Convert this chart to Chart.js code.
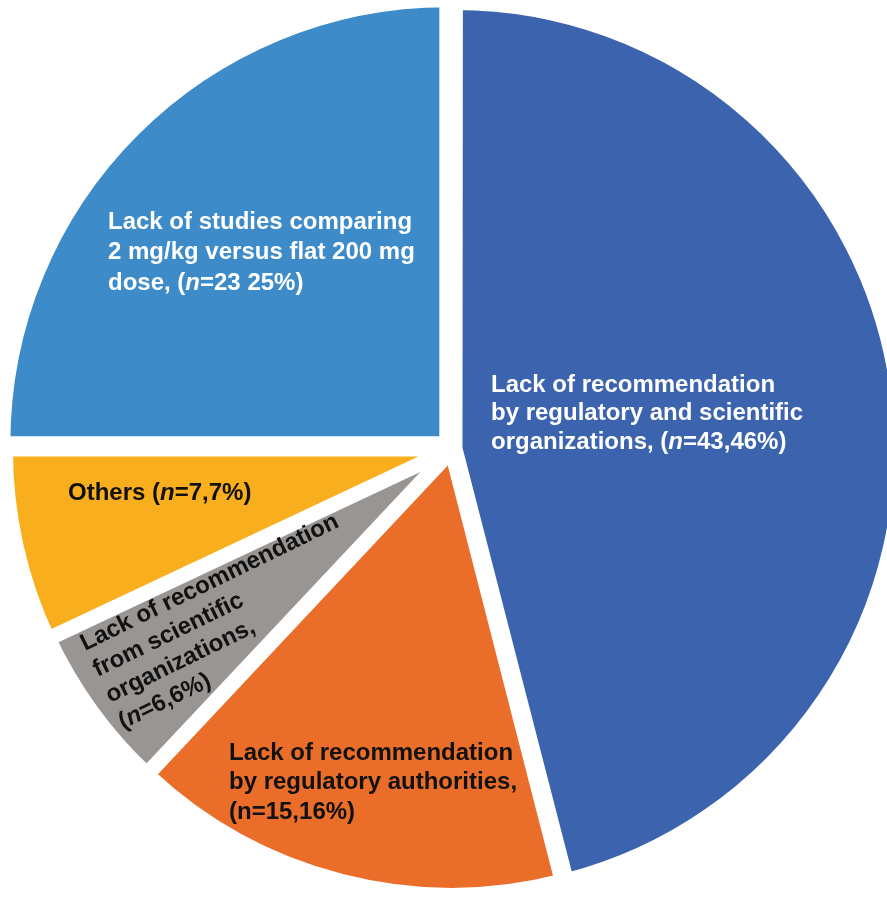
<!DOCTYPE html>
<html>
<head>
<meta charset="utf-8">
<script src="https://cdn.jsdelivr.net/npm/chart.js@4.4.1/dist/chart.umd.min.js"></script>
<style>
  html, body { margin: 0; padding: 0; background: #fff; }
  #wrap { width: 887px; height: 898px; }
</style>
</head>
<body>
<div id="wrap"><canvas id="pie-chart"></canvas></div>
<script>
var categories = [
  "Lack of recommendation by regulatory and scientific organizations",
  "Lack of recommendation by regulatory authorities",
  "Lack of recommendation from scientific organizations",
  "Others",
  "Lack of studies comparing 2 mg/kg versus flat 200 mg dose"
];
var counts = [43, 15, 6, 7, 23];
var percents = [46, 16, 6, 7, 25];
var colors = ["#3c63ad", "#ea6d2a", "#999593", "#f9af1d", "#3d8bc8"];
var textColors = ["#ffffff", "#111111", "#111111", "#111111", "#ffffff"];

// text lines inside each slice, {n} gets the count / percent
var labelLines = [
  ["Lack of recommendation", "by regulatory and scientific", "organizations, ({n})"],
  ["Lack of recommendation", "by regulatory authorities,", "({n})"],
  ["Lack of recommendation", "from scientific", "organizations,", "({n})"],
  ["Others ({n})"],
  ["Lack of studies comparing", "2 mg/kg versus flat 200 mg", "dose, ({n})"]
];
var labelSep = [",", ",", ",", ",", " "];
var italicN = [true, false, true, true, true];

// where the label block starts, relative to the pie centre
var labelPos = [
  { dx: 39, dy: -64, lh: 28.5, rot: 0 },
  { dx: -223, dy: 304, lh: 29.5, rot: 0 },
  { dx: -370, dy: 196, lh: 29, rot: -26 },
  { dx: -384, dy: 44, lh: 29, rot: 0 },
  { dx: -344, dy: -227, lh: 30.5, rot: 0 }
];

var FONT = '"Liberation Sans", Arial, sans-serif';

function drawLine(ctx, str, i, x, y) {
  var k = str.indexOf("{n}");
  if (k < 0) { ctx.fillText(str, x, y); return; }
  var before = str.slice(0, k);
  var after = "=" + counts[i] + labelSep[i] + percents[i] + "%" + str.slice(k + 3);
  ctx.font = "bold 24px " + FONT;
  ctx.fillText(before, x, y);
  x += ctx.measureText(before).width;
  ctx.font = (italicN[i] ? "italic " : "") + "bold 24px " + FONT;
  ctx.fillText("n", x, y);
  x += ctx.measureText("n").width;
  ctx.font = "bold 24px " + FONT;
  ctx.fillText(after, x, y);
}

var sliceLabels = {
  id: 'sliceLabels',
  afterDatasetsDraw: function (chart) {
    var ctx = chart.ctx;
    var arcs = chart.getDatasetMeta(0).data;
    arcs.forEach(function (arc, i) {
      var p = labelPos[i];
      ctx.save();
      ctx.translate(arc.x + p.dx, arc.y + p.dy);
      ctx.rotate(p.rot * Math.PI / 180);
      ctx.fillStyle = textColors[i];
      ctx.textAlign = 'left';
      ctx.textBaseline = 'middle';
      labelLines[i].forEach(function (line, j) {
        ctx.font = "bold 24px " + FONT;
        drawLine(ctx, line, i, 0, j * p.lh);
      });
      ctx.restore();
    });
  }
};

new Chart(document.getElementById("pie-chart"), {
  type: 'pie',
  data: {
    labels: categories,
    datasets: [
      {
        data: percents,
        backgroundColor: colors,
        borderColor: "#ffffff",
        borderWidth: 14,
        borderJoinStyle: 'bevel',
        offset: [14, 10, 6, 8, 32]
      }
    ]
  },
  options: {
    responsive: true,
    maintainAspectRatio: false,
    animation: false,
    radius: 443,
    layout: { padding: { left: 17, right: 0, top: 0, bottom: 0 } },
    plugins: {
      legend: { display: false },
      tooltip: { enabled: false }
    }
  },
  plugins: [sliceLabels]
});
</script>
</body>
</html>
